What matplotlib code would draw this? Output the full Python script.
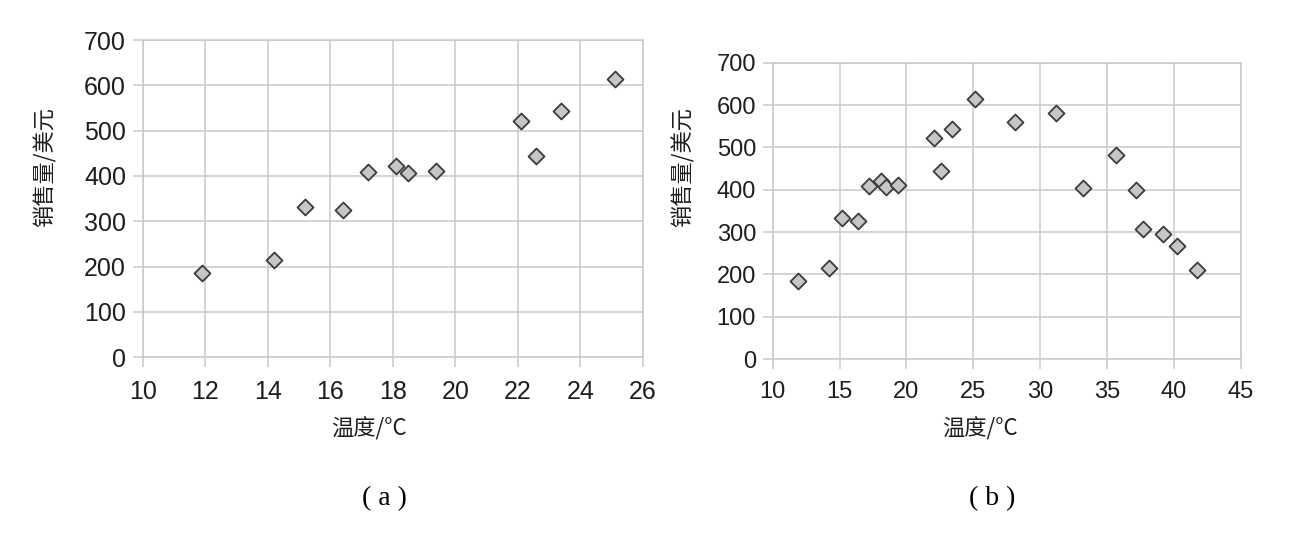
import matplotlib
matplotlib.use("Agg")
import matplotlib.pyplot as plt

plt.rcParams['font.family'] = ['Liberation Sans', 'Noto Sans CJK SC', 'DejaVu Sans']

# Data (a)
temp_a = [11.9, 14.2, 15.2, 16.4, 17.2, 18.1, 18.5, 19.4, 22.1, 22.6, 23.4, 25.1]
sales_a = [185, 215, 332, 325, 408, 421, 406, 412, 522, 445, 544, 614]

# Data (b)
temp_b = [11.9, 14.2, 15.2, 16.4, 17.2, 18.1, 18.5, 19.4, 22.1, 22.6, 23.4, 25.1,
          28.1, 31.2, 33.2, 35.7, 37.2, 37.7, 39.2, 40.2, 41.7]
sales_b = [185, 215, 332, 325, 408, 421, 406, 412, 522, 445, 544, 614,
           561, 580, 405, 481, 400, 306, 295, 268, 211]

xticks_a = [10, 12, 14, 16, 18, 20, 22, 24, 26]
xticks_b = [10, 15, 20, 25, 30, 35, 40, 45]
yticks = [0, 100, 200, 300, 400, 500, 600, 700]

xlabel = '温度/°C'
ylabel = '销售量/美元'
panel_labels = ['( a )', '( b )']

W, H = 1289, 542
fig = plt.figure(figsize=(W / 100, H / 100), dpi=100)

grid_c = '#c9c9c9'
text_c = '#1e1e1e'
cjk = ['Noto Sans CJK SC', 'DejaVu Sans']

def px_axes(x0, y0, x1, y1):
    return fig.add_axes([x0 / W, 1 - y1 / H, (x1 - x0) / W, (y1 - y0) / H])

def style(ax, xs, ys, xticks, fs):
    ax.scatter(xs, ys, marker='D', s=66, facecolor='#c6c6c6', edgecolor='#3c3c3c',
               linewidths=1.3, zorder=3, clip_on=False)
    ax.set_xlim(xticks[0], xticks[-1])
    ax.set_ylim(0, 700)
    ax.set_xticks(xticks)
    ax.set_yticks(yticks)
    ax.grid(True, color=grid_c, linewidth=1.1)
    ax.set_axisbelow(True)
    for s in ax.spines.values():
        s.set_color(grid_c)
        s.set_linewidth(1.1)
    ax.tick_params(direction='out', length=7, width=1.1, color=grid_c,
                   labelsize=fs, labelcolor=text_c)
    ax.tick_params(axis='y', pad=5)
    ax.tick_params(axis='x', pad=9)

ax1 = px_axes(142.7, 40, 642.7, 357.3)
style(ax1, temp_a, sales_a, xticks_a, 18)
ax2 = px_axes(772.7, 62.7, 1240.7, 359)
style(ax2, temp_b, sales_b, xticks_b, 17)

# axis labels
fig.text(369 / W, 1 - 429 / H, xlabel, ha='center', va='center', fontsize=16,
         family=cjk, color=text_c)
fig.text(980 / W, 1 - 429 / H, xlabel, ha='center', va='center', fontsize=16,
         family=cjk, color=text_c)
fig.text(45 / W, 1 - 167 / H, ylabel, ha='center', va='center', rotation=90,
         fontsize=16, family=cjk, color=text_c)
fig.text(683 / W, 1 - 167 / H, ylabel, ha='center', va='center', rotation=90,
         fontsize=16, family=cjk, color=text_c)

# panel labels
fig.text(384 / W, 1 - 499 / H, panel_labels[0], ha='center', va='center', fontsize=20,
         family=['Liberation Serif'], color='black')
fig.text(992 / W, 1 - 499 / H, panel_labels[1], ha='center', va='center', fontsize=20,
         family=['Liberation Serif'], color='black')

fig.savefig('out.png', dpi=100, facecolor='white')
